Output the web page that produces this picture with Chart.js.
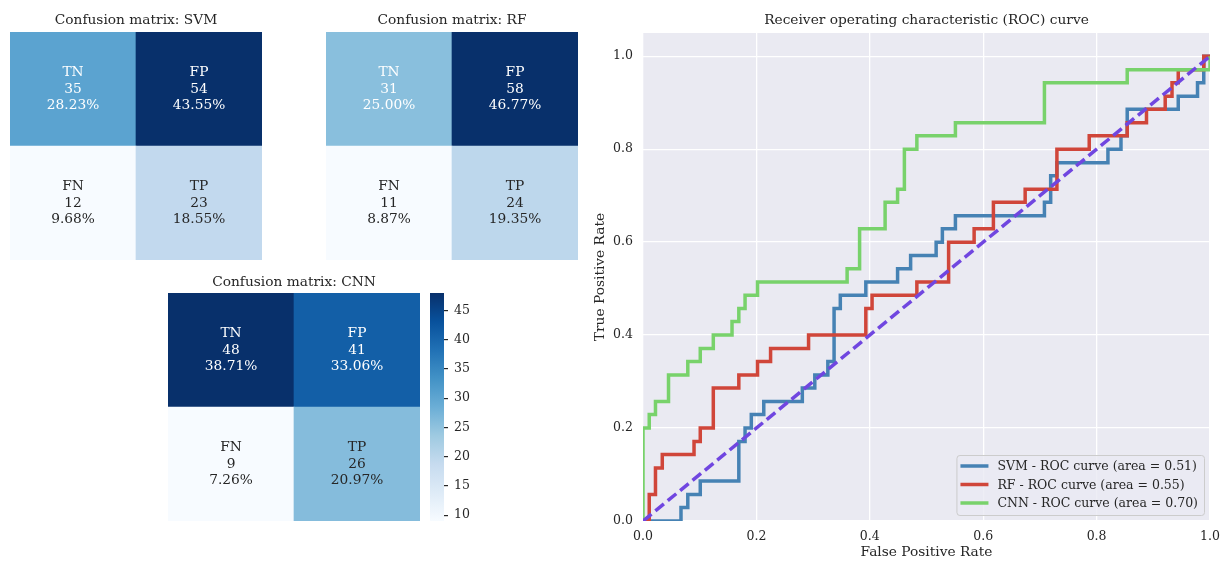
<!DOCTYPE html>
<html>
<head>
<meta charset="utf-8">
<script src="https://cdn.jsdelivr.net/npm/chart.js@4"></script>
<style>
  body { margin: 0; background: #fff; }
  .box { position: absolute; }
</style>
</head>
<body>
<div class="box" style="left:10px;top:0px;width:252px;height:260px"><canvas id="svmCm"></canvas></div>
<div class="box" style="left:326px;top:0px;width:252px;height:260px"><canvas id="rfCm"></canvas></div>
<div class="box" style="left:168px;top:262px;width:252px;height:259px"><canvas id="cnnCm"></canvas></div>
<div class="box" style="left:430px;top:293px;width:50px;height:228px"><canvas id="cbar"></canvas></div>
<div class="box" style="left:589px;top:0px;width:632px;height:561px"><canvas id="roc"></canvas></div>
<script>
// confusion matrices, order TN, FP, FN, TP
var cellNames = ['TN', 'FP', 'FN', 'TP'];
var svmCounts = [35, 54, 12, 23];
var svmPcts = ['28.23%', '43.55%', '9.68%', '18.55%'];
var rfCounts = [31, 58, 11, 24];
var rfPcts = ['25.00%', '46.77%', '8.87%', '19.35%'];
var cnnCounts = [48, 41, 9, 26];
var cnnPcts = ['38.71%', '33.06%', '7.26%', '20.97%'];
var cbarTicks = [10, 15, 20, 25, 30, 35, 40, 45];

// ROC curves as [fpr, tpr] corners
var svmRoc = [[0,0],[0.067,0],[0.067,0.029],[0.079,0.029],[0.079,0.057],[0.101,0.057],[0.101,0.086],
  [0.169,0.086],[0.169,0.171],[0.180,0.171],[0.180,0.200],[0.191,0.200],[0.191,0.229],[0.213,0.229],
  [0.213,0.257],[0.281,0.257],[0.281,0.286],[0.303,0.286],[0.303,0.314],[0.326,0.314],[0.326,0.343],
  [0.337,0.343],[0.337,0.457],[0.348,0.457],[0.348,0.486],[0.393,0.486],[0.393,0.514],[0.449,0.514],
  [0.449,0.543],[0.472,0.543],[0.472,0.571],[0.517,0.571],[0.517,0.600],[0.528,0.600],[0.528,0.629],
  [0.551,0.629],[0.551,0.657],[0.708,0.657],[0.708,0.686],[0.719,0.686],[0.719,0.743],[0.730,0.743],
  [0.730,0.771],[0.820,0.771],[0.820,0.800],[0.843,0.800],[0.843,0.829],[0.854,0.829],[0.854,0.886],
  [0.944,0.886],[0.944,0.914],[0.978,0.914],[0.978,0.943],[0.989,0.943],[0.989,1],[1,1]];
var rfRoc = [[0,0],[0.011,0],[0.011,0.057],[0.022,0.057],[0.022,0.114],[0.034,0.114],[0.034,0.143],
  [0.090,0.143],[0.090,0.171],[0.101,0.171],[0.101,0.200],[0.124,0.200],[0.124,0.286],[0.169,0.286],
  [0.169,0.314],[0.202,0.314],[0.202,0.343],[0.225,0.343],[0.225,0.371],[0.292,0.371],[0.292,0.400],
  [0.393,0.400],[0.393,0.457],[0.404,0.457],[0.404,0.486],[0.483,0.486],[0.483,0.514],[0.539,0.514],
  [0.539,0.600],[0.584,0.600],[0.584,0.629],[0.618,0.629],[0.618,0.686],[0.674,0.686],[0.674,0.714],
  [0.730,0.714],[0.730,0.800],[0.787,0.800],[0.787,0.829],[0.854,0.829],[0.854,0.857],[0.888,0.857],
  [0.888,0.886],[0.921,0.886],[0.921,0.914],[0.933,0.914],[0.933,0.943],[0.944,0.943],[0.944,0.971],
  [0.989,0.971],[0.989,1],[1,1]];
var cnnRoc = [[0,0],[0,0.200],[0.011,0.200],[0.011,0.229],[0.022,0.229],[0.022,0.257],[0.045,0.257],
  [0.045,0.314],[0.079,0.314],[0.079,0.343],[0.101,0.343],[0.101,0.371],[0.124,0.371],[0.124,0.400],
  [0.157,0.400],[0.157,0.429],[0.169,0.429],[0.169,0.457],[0.180,0.457],[0.180,0.486],[0.202,0.486],
  [0.202,0.514],[0.360,0.514],[0.360,0.543],[0.382,0.543],[0.382,0.629],[0.427,0.629],[0.427,0.686],
  [0.449,0.686],[0.449,0.714],[0.461,0.714],[0.461,0.800],[0.483,0.800],[0.483,0.829],[0.551,0.829],
  [0.551,0.857],[0.708,0.857],[0.708,0.943],[0.854,0.943],[0.854,0.971],[1,0.971],[1,1]];
var chanceLine = [[0,0],[1,1]];
var rocLabels = ['SVM - ROC curve (area = 0.51)', 'RF - ROC curve (area = 0.55)', 'CNN - ROC curve (area = 0.70)'];
var rocTicks = [0, 0.2, 0.4, 0.6, 0.8, 1.0];

Chart.defaults.font.family = "'DejaVu Serif', serif";
Chart.defaults.color = '#262626';

// matplotlib "Blues"
var blues = ['#f7fbff','#deebf7','#c6dbef','#9ecae1','#6baed6','#4292c6','#2171b5','#08519c','#08306b'];
function bluesAt(t) {
  t = Math.max(0, Math.min(1, t)) * 8;
  var i = Math.min(7, Math.floor(t)), f = t - i;
  var a = parseInt(blues[i].slice(1), 16), b = parseInt(blues[i + 1].slice(1), 16);
  var r = Math.round(((a >> 16) & 255) * (1 - f) + ((b >> 16) & 255) * f);
  var g = Math.round(((a >> 8) & 255) * (1 - f) + ((b >> 8) & 255) * f);
  var bl = Math.round((a & 255) * (1 - f) + (b & 255) * f);
  return 'rgb(' + r + ',' + g + ',' + bl + ')';
}

var cellText = {
  id: 'cellText',
  afterDatasetsDraw: function(chart) {
    var c = chart.ctx;
    c.save();
    c.font = "13.75px 'DejaVu Serif', serif";
    c.textAlign = 'center';
    c.textBaseline = 'middle';
    chart.data.datasets.forEach(function(ds, d) {
      chart.getDatasetMeta(d).data.forEach(function(bar, i) {
        var p = bar.getProps(['x', 'y', 'base'], true);
        var cy = (p.y + p.base) / 2;
        var k = ds.cells[i];
        c.fillStyle = ds.textColor;
        c.fillText(cellNames[k], p.x, cy - 16.2);
        c.fillText(String(ds.counts[k]), p.x, cy);
        c.fillText(ds.pcts[k], p.x, cy + 16.2);
      });
    });
    c.restore();
  }
};

function makeMatrix(id, title, counts, pcts, padBottom) {
  var lo = Math.min.apply(null, counts), hi = Math.max.apply(null, counts);
  var col = counts.map(function(v) { return bluesAt((v - lo) / (hi - lo)); });
  new Chart(document.getElementById(id), {
    type: 'bar',
    data: {
      labels: ['0', '1'],
      datasets: [
        { data: [1, 1], cells: [2, 3], counts: counts, pcts: pcts, textColor: '#262626',
          backgroundColor: [col[2], col[3]], barPercentage: 1, categoryPercentage: 1, borderWidth: 0 },
        { data: [1, 1], cells: [0, 1], counts: counts, pcts: pcts, textColor: '#ffffff',
          backgroundColor: [col[0], col[1]], barPercentage: 1, categoryPercentage: 1, borderWidth: 0 }
      ]
    },
    options: {
      animation: false, responsive: true, maintainAspectRatio: false, events: [],
      layout: { padding: 0 },
      plugins: {
        legend: { display: false }, tooltip: { enabled: false },
        title: { display: true, text: title, color: '#262626',
          font: { size: 13.75, weight: 'normal' }, padding: { top: 12, bottom: padBottom } }
      },
      scales: {
        x: { display: false, stacked: true },
        y: { display: false, stacked: true, min: 0, max: 2 }
      }
    },
    plugins: [cellText]
  });
}

makeMatrix('svmCm', 'Confusion matrix: SVM', svmCounts, svmPcts, 3.5);
makeMatrix('rfCm', 'Confusion matrix: RF', rfCounts, rfPcts, 3.5);
makeMatrix('cnnCm', 'Confusion matrix: CNN', cnnCounts, cnnPcts, 2.5);

// colorbar for the CNN matrix
var cbLo = Math.min.apply(null, cnnCounts), cbHi = Math.max.apply(null, cnnCounts);
new Chart(document.getElementById('cbar'), {
  type: 'bar',
  data: {
    labels: [''],
    datasets: [{
      data: [[cbLo, cbHi]],
      barPercentage: 1, categoryPercentage: 1, borderWidth: 0,
      backgroundColor: function(ctx) {
        var area = ctx.chart.chartArea;
        if (!area) return '#6baed6';
        var g = ctx.chart.ctx.createLinearGradient(0, area.bottom, 0, area.top);
        blues.forEach(function(cl, i) { g.addColorStop(i / 8, cl); });
        return g;
      }
    }]
  },
  options: {
    animation: false, responsive: true, maintainAspectRatio: false, events: [],
    layout: { padding: 0 },
    plugins: { legend: { display: false }, tooltip: { enabled: false } },
    scales: {
      x: { display: false },
      y: {
        position: 'right', min: cbLo, max: cbHi,
        afterBuildTicks: function(s) { s.ticks = cbarTicks.map(function(v) { return { value: v }; }); },
        afterFit: function(s) { s.width = 36; s.paddingTop = 0; s.paddingBottom = 0; },
        ticks: { font: { size: 12.5 }, padding: 6 },
        grid: { drawOnChartArea: false, drawTicks: true, tickLength: 4, color: '#262626', lineWidth: 1.2 },
        border: { display: false }
      }
    }
  }
});

// ROC plot
function pts(a) { return a.map(function(p) { return { x: p[0], y: p[1] }; }); }

var plotBg = {
  id: 'plotBg',
  beforeDraw: function(chart) {
    var a = chart.chartArea, c = chart.ctx;
    c.save();
    c.fillStyle = '#eaeaf2';
    c.fillRect(a.left, a.top, a.right - a.left, a.bottom - a.top);
    c.restore();
  }
};

var plotTitle = {
  id: 'plotTitle',
  afterDraw: function(chart) {
    var a = chart.chartArea, c = chart.ctx;
    c.save();
    c.font = "13.75px 'DejaVu Serif', serif";
    c.fillStyle = '#262626';
    c.textAlign = 'center';
    c.textBaseline = 'middle';
    c.fillText('Receiver operating characteristic (ROC) curve', (a.left + a.right) / 2, 20.5);
    c.restore();
  }
};

var insideLegend = {
  id: 'insideLegend',
  afterDraw: function(chart) {
    var a = chart.chartArea, c = chart.ctx;
    var sets = chart.data.datasets.filter(function(d) { return d.inLegend; });
    c.save();
    c.font = "12.5px 'DejaVu Serif', serif";
    var tw = 0;
    sets.forEach(function(d) { tw = Math.max(tw, c.measureText(d.label).width); });
    var w = 41 + tw + 6, h = 60;
    var x = a.right - 6 - w, y = a.bottom - 6 - h;
    c.fillStyle = 'rgba(234,234,242,0.8)';
    c.strokeStyle = '#cccccc';
    c.lineWidth = 1;
    c.beginPath();
    c.roundRect(x + 0.5, y + 0.5, w, h, 3);
    c.fill();
    c.stroke();
    c.textBaseline = 'middle';
    c.textAlign = 'left';
    sets.forEach(function(d, i) {
      var ly = y + 11 + i * 18.5;
      c.strokeStyle = d.borderColor;
      c.lineWidth = 3.5;
      c.beginPath();
      c.moveTo(x + 4, ly);
      c.lineTo(x + 32, ly);
      c.stroke();
      c.fillStyle = '#262626';
      c.fillText(d.label, x + 41, ly + 1);
    });
    c.restore();
  }
};

var line = { showLine: true, pointRadius: 0, borderWidth: 3.5, tension: 0, fill: false };

new Chart(document.getElementById('roc'), {
  type: 'scatter',
  data: {
    datasets: [
      Object.assign({ label: rocLabels[0], data: pts(svmRoc), borderColor: '#4682b4', order: 3, inLegend: true }, line),
      Object.assign({ label: rocLabels[1], data: pts(rfRoc), borderColor: '#d0463a', order: 2, inLegend: true }, line),
      Object.assign({ label: rocLabels[2], data: pts(cnnRoc), borderColor: '#78d26b', order: 1, inLegend: true }, line),
      Object.assign({ label: 'chance', data: pts(chanceLine), borderColor: '#7046e0', borderDash: [11, 5], order: 0 }, line)
    ]
  },
  options: {
    animation: false, responsive: true, maintainAspectRatio: false, events: [],
    layout: { padding: { top: 33, right: 11, left: 0, bottom: 0 } },
    plugins: { legend: { display: false }, tooltip: { enabled: false } },
    scales: {
      x: {
        type: 'linear', min: 0, max: 1,
        afterBuildTicks: function(s) { s.ticks = rocTicks.map(function(v) { return { value: v }; }); },
        afterFit: function(s) { s.height = 40; s.paddingLeft = 0; s.paddingRight = 0; },
        ticks: { font: { size: 12.5 }, padding: 8, callback: function(v) { return v.toFixed(1); } },
        grid: { color: '#ffffff', lineWidth: 1.3, drawTicks: false },
        border: { display: false },
        title: { display: true, text: 'False Positive Rate', font: { size: 13.75 }, padding: { top: 0, bottom: 0 } }
      },
      y: {
        type: 'linear', min: 0, max: 1.05,
        afterBuildTicks: function(s) { s.ticks = rocTicks.map(function(v) { return { value: v }; }); },
        afterFit: function(s) { s.width = 54; s.paddingTop = 0; s.paddingBottom = 0; },
        ticks: { font: { size: 12.5 }, padding: 10, callback: function(v) { return v.toFixed(1); } },
        grid: { color: '#ffffff', lineWidth: 1.3, drawTicks: false },
        border: { display: false },
        title: { display: true, text: 'True Positive Rate', font: { size: 13.75 }, padding: { top: 3, bottom: 3 } }
      }
    }
  },
  plugins: [plotBg, plotTitle, insideLegend]
});
</script>
</body>
</html>
